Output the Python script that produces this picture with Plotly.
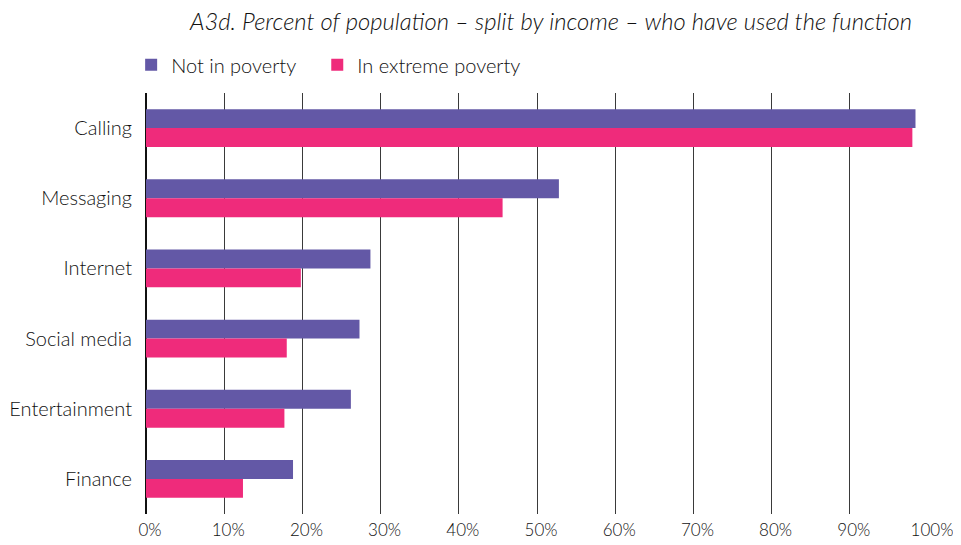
import plotly.graph_objects as go

categories = ["Calling", "Messaging", "Internet", "Social media", "Entertainment", "Finance"]
not_in_poverty = [98.4, 52.8, 28.7, 27.3, 26.2, 18.8]
extreme_poverty = [98.0, 45.6, 19.8, 18.0, 17.7, 12.4]
tick_vals = [0, 10, 20, 30, 40, 50, 60, 70, 80, 90, 100]
tick_text = [f"{v}%" for v in tick_vals]

FONT = "Lato, 'Open Sans', sans-serif"
TEXT = "#111111"

fig = go.Figure()
fig.add_trace(go.Bar(y=categories, x=not_in_poverty, orientation="h", legend="legend",
                     name="Not in poverty", marker=dict(color="#6358A6", line=dict(width=0))))
fig.add_trace(go.Bar(y=categories, x=extreme_poverty, orientation="h", legend="legend2",
                     name="In extreme poverty", marker=dict(color="#EF2B7B", line=dict(width=0))))

legend_common = dict(orientation="h", xanchor="left", y=1.067, yanchor="middle",
                     font=dict(size=20, color=TEXT, weight=300), entrywidth=0,
                     itemsizing="constant", bgcolor="rgba(0,0,0,0)")

# page body has an 8px margin, so the figure is offset by 8px
fig.update_layout(
    width=953, height=537,
    margin=dict(l=138, r=33, t=85, b=31, autoexpand=False),
    paper_bgcolor="white", plot_bgcolor="white",
    barmode="group", bargap=0.46, bargroupgap=0,
    font=dict(family=FONT, color=TEXT, size=17, weight=300),
    showlegend=True,
    legend=dict(x=-0.019, **legend_common),
    legend2=dict(x=0.219, **legend_common),
    annotations=[dict(text="<i>A3d. Percent of population – split by income – who have used the function</i>",
                      xref="paper", yref="paper", x=0.982, xanchor="right", y=1.172, yanchor="middle",
                      showarrow=False, font=dict(size=23.8, color=TEXT, family=FONT, weight=300))],
)
fig.update_xaxes(range=[0, 100], tickvals=tick_vals, ticktext=tick_text,
                 showgrid=True, gridcolor="#3a3a3a", gridwidth=1,
                 zeroline=True, zerolinecolor="#111111", zerolinewidth=2,
                 showline=False, ticks="", tickfont=dict(size=17, color=TEXT, weight=300),
                 ticklabelstandoff=4, ticklabelshift=4, fixedrange=True)
fig.update_yaxes(autorange="reversed", showgrid=False, zeroline=False, showline=False,
                 ticks="", tickfont=dict(size=20, color=TEXT, weight=300), ticklabelstandoff=13,
                 fixedrange=True)

fig.write_html("out.html")
